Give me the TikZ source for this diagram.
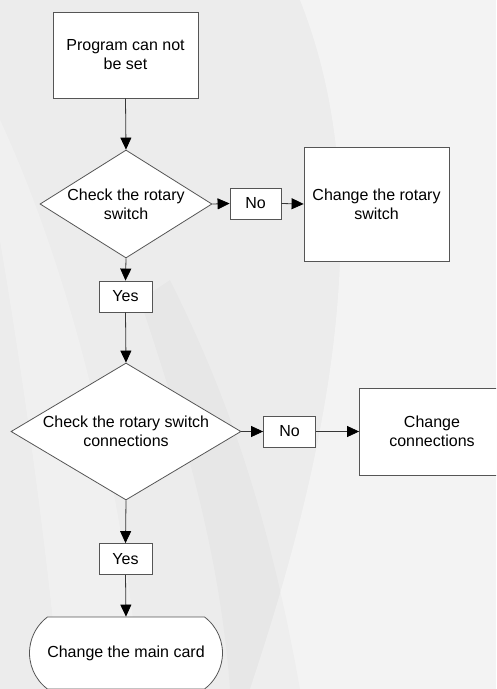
\documentclass[tikz,border=0pt]{standalone}
\usepackage{fontspec}
\setmainfont{Liberation Sans}
\usetikzlibrary{arrows.meta,shapes.geometric,shapes.misc}
\definecolor{bgc}{RGB}{236,236,236}
\definecolor{edgec}{RGB}{85,85,85}
\definecolor{linec}{RGB}{55,55,55}
\begin{document}
\begin{tikzpicture}[x=1pt,y=-1pt,
  font=\fontsize{16}{19}\selectfont,
  box/.style={draw=edgec, fill=white, line width=0.8pt, rectangle, inner sep=0pt, align=center},
  dia/.style={draw=edgec, fill=white, line width=0.8pt, diamond, inner sep=0pt},
  term/.style={draw=edgec, fill=white, line width=0.8pt, rounded rectangle, rounded rectangle arc length=106, inner sep=0pt},
  conn/.style={draw=linec, line width=0.8pt, -{Triangle[length=12pt,width=11pt,black]}},
  plain/.style={draw=linec, line width=0.8pt}
]
\useasboundingbox (0,0) rectangle (496,689);
\clip (0,0) rectangle (496,689);
\fill[bgc] (0,0) rectangle (496,689);
% background swooshes
\fill[white, opacity=0.4] (300,0) .. controls (380,200) and (330,450) .. (250,689) -- (496,689) -- (496,0) -- cycle;
\fill[white, opacity=0.25] (0,120) .. controls (60,250) and (120,450) .. (140,689) -- (60,689) .. controls (40,480) and (10,300) .. (0,240) -- cycle;
\fill[black, opacity=0.02] (140,300) .. controls (190,450) and (220,560) .. (230,689) -- (300,689) .. controls (270,520) and (230,400) .. (170,280) -- cycle;

\node[box, minimum width=145pt, minimum height=86pt] (b1) at (125.5,55) {Program can not\\be set};
\node[dia, minimum width=172pt, minimum height=108pt, label={[align=center]center:Check the rotary\\switch}] (d1) at (126,204) {};
\node[box, minimum width=51pt, minimum height=31pt] (n1) at (255.5,203.5) {No};
\node[box, minimum width=145pt, minimum height=114pt] (b2) at (376.5,204) {Change the rotary\\switch};
\node[box, minimum width=53pt, minimum height=31pt] (y1) at (125.5,296.5) {Yes};
\node[dia, minimum width=230pt, minimum height=137pt, label={[align=center]center:Check the rotary switch\\connections}] (d2) at (126,431.5) {};
\node[box, minimum width=52pt, minimum height=31pt] (n2) at (289.5,431.5) {No};
\node[box, minimum width=145pt, minimum height=87pt] (b3) at (432,431.5) {Change\\connections};
\node[box, minimum width=53pt, minimum height=31pt] (y2) at (125.5,559) {Yes};
\node[term, minimum width=193pt, minimum height=72pt] (t) at (126,653) {Change the main card};

\draw[conn] (b1.south) -- (d1.north);
\draw[conn] (d1.east) -- (n1.west);
\draw[conn] (n1.east) -- (b2.west);
\draw[conn] (d1.south) -- (y1.north);
\draw[conn] (y1.south) -- (d2.north);
\draw[conn] (d2.east) -- (n2.west);
\draw[conn] (n2.east) -- (b3.west);
\draw[conn] (d2.south) -- (y2.north);
\draw[conn] (y2.south) -- (t.north);
\end{tikzpicture}
\end{document}
